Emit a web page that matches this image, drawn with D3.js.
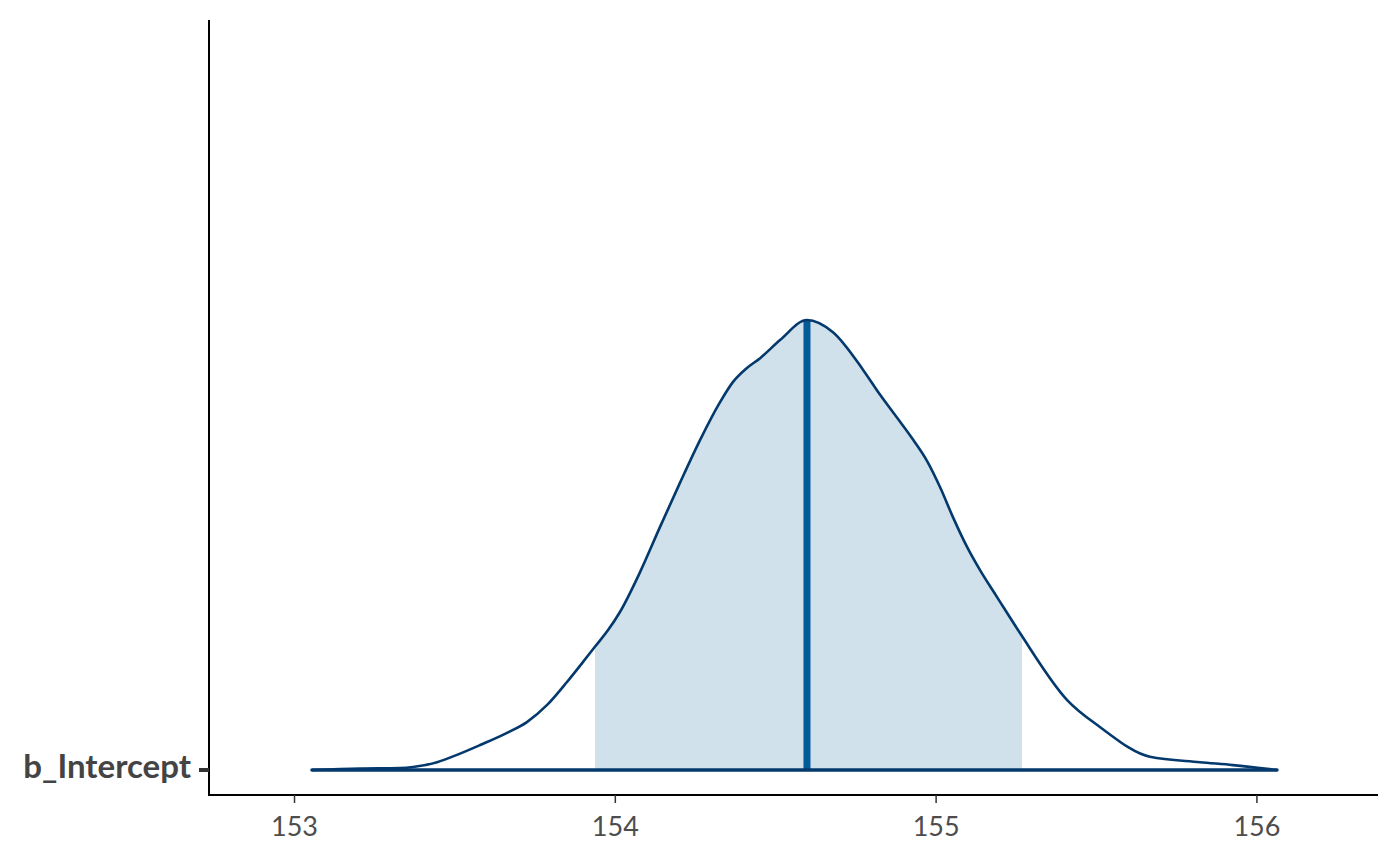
<!DOCTYPE html>
<html>
<head>
<meta charset="utf-8">
<script src="https://cdn.jsdelivr.net/npm/d3@7"></script>
<style>
  html, body { margin: 0; padding: 0; background: #fff; }
  svg { display: block; }
</style>
</head>
<body>
<svg id="chart" width="1400" height="865"></svg>
<script>
// ---- data ----
const parameters = ["b_Intercept"];
const densX = [153.056, 153.206, 153.330, 153.371, 153.446, 153.508, 153.580, 153.664, 153.726, 153.789,
  153.851, 153.901, 153.938, 153.979, 154.016, 154.079, 154.141, 154.203, 154.266, 154.328,
  154.368, 154.412, 154.453, 154.515, 154.599, 154.680, 154.774, 154.827, 154.880, 154.930,
  154.973, 155.014, 155.054, 155.098, 155.138, 155.191, 155.263, 155.410, 155.512, 155.668,
  155.824, 155.927, 156.064];
const densY = [0.000, 0.003, 0.004, 0.006, 0.016, 0.031, 0.051, 0.076, 0.098, 0.133,
  0.180, 0.221, 0.252, 0.286, 0.323, 0.405, 0.497, 0.587, 0.675, 0.752,
  0.793, 0.822, 0.842, 0.879, 0.920, 0.895, 0.818, 0.767, 0.720, 0.675,
  0.632, 0.578, 0.517, 0.456, 0.409, 0.354, 0.280, 0.143, 0.088, 0.027,
  0.016, 0.010, 0.000];
const intervalLow = 153.938;
const intervalHigh = 155.269;
const medianValue = 154.599;
const medianDensity = 0.920;
const xTicks = [153, 154, 155, 156];

// ---- drawing ----
(function () {
const svg = d3.select("#chart");
const mLeft = 209, mRight = 1378, mTop = 20, mBottom = 795;
const x = d3.scaleLinear().domain([152.735, 156.379]).range([mLeft, mRight]);
const baseY = 770;
const y = d3.scaleLinear().domain([0, 0.92]).range([baseY, 320]);
const fontFam = "Lato, 'Source Sans Pro', sans-serif";

const pts = densX.map((v, i) => ({x: v, y: densY[i]}));

svg.append("defs").append("clipPath").attr("id", "intClip")
  .append("rect")
  .attr("x", x(intervalLow)).attr("y", 0)
  .attr("width", x(intervalHigh) - x(intervalLow)).attr("height", 865);

const area = d3.area().x(d => x(d.x)).y0(baseY).y1(d => y(d.y)).curve(d3.curveMonotoneX);
const line = d3.line().x(d => x(d.x)).y(d => y(d.y)).curve(d3.curveMonotoneX);

svg.append("path").datum(pts).attr("d", area)
  .attr("fill", "#d1e1ec").attr("clip-path", "url(#intClip)");

svg.append("line")
  .attr("x1", x(medianValue)).attr("x2", x(medianValue))
  .attr("y1", baseY).attr("y2", y(medianDensity))
  .attr("stroke", "#005b96").attr("stroke-width", 7);

svg.append("path").datum(pts).attr("d", line)
  .attr("fill", "none").attr("stroke", "#03396c").attr("stroke-width", 2.6);

svg.append("line")
  .attr("x1", x(densX[0])).attr("x2", x(densX[densX.length - 1]))
  .attr("y1", baseY).attr("y2", baseY)
  .attr("stroke", "#03396c").attr("stroke-width", 3.5).attr("stroke-linecap", "round");

const xAxis = d3.axisBottom(x).tickValues(xTicks).tickSize(8).tickFormat(d3.format("d"));
const gx = svg.append("g").attr("transform", `translate(0,${mBottom})`).call(xAxis);
gx.select(".domain").attr("stroke", "#000").attr("stroke-width", 2).attr("d", `M${mLeft},0H${mRight}`);
gx.selectAll(".tick line").attr("stroke", "#333").attr("stroke-width", 1.5);
gx.selectAll(".tick text").attr("fill", "#4d4d4d")
  .style("font-family", fontFam).style("font-size", "27px")
  .attr("y", 41).attr("dy", "0");

svg.append("line").attr("x1", mLeft).attr("x2", mLeft).attr("y1", mTop).attr("y2", mBottom + 1)
  .attr("stroke", "#000").attr("stroke-width", 2);
parameters.forEach(p => {
  svg.append("line").attr("x1", mLeft - 10).attr("x2", mLeft).attr("y1", baseY).attr("y2", baseY)
    .attr("stroke", "#333").attr("stroke-width", 4);
  svg.append("text").attr("x", mLeft - 18).attr("y", baseY + 8)
    .attr("text-anchor", "end").attr("fill", "#444").attr("font-weight", "bold")
    .style("font-family", fontFam).style("font-size", "33px")
    .text(p);
});
})();
</script>
</body>
</html>
